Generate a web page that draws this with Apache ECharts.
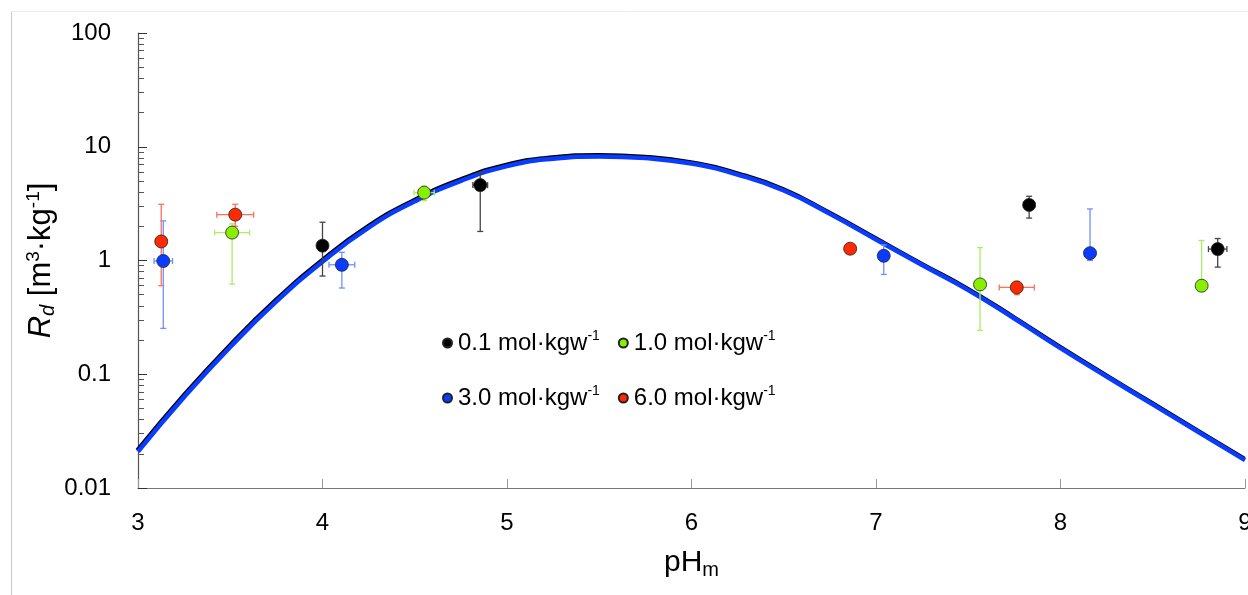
<!DOCTYPE html>
<html><head><meta charset="utf-8">
<script src="https://cdn.jsdelivr.net/npm/echarts@6/dist/echarts.min.js"></script>
<style>html,body{margin:0;padding:0;background:#fff}#c{width:1248px;height:595px}</style>
</head><body><div id="c"></div>
<script>
// ---- data ----
const xTicks = [3, 4, 5, 6, 7, 8, 9];
const yTicks = [0.01, 0.1, 1, 10, 100];
const yMinorTicks = [0.02,0.03,0.04,0.05,0.06,0.07,0.08,0.09,
                     0.2,0.3,0.4,0.5,0.6,0.7,0.8,0.9,
                     2,3,4,5,6,7,8,9,
                     20,30,40,50,60,70,80,90];
const seriesNames = ['0.1 mol·kgw-1', '1.0 mol·kgw-1', '3.0 mol·kgw-1', '6.0 mol·kgw-1'];
const legendText = ['0.1 mol·kgw', '1.0 mol·kgw', '3.0 mol·kgw', '6.0 mol·kgw'];

// 0.1 mol/kgw (black)
const c01_pH = [4.00, 4.855, 7.83, 8.852];
const c01_Rd = [1.35, 4.6, 3.08, 1.26];
const c01_lo = [0.73, 1.80, 2.36, 0.875];
const c01_hi = [2.17, 5.9, 3.67, 1.56];
const c01_xe = [0, 0.04, 0.03, 0.05];
// 1.0 mol/kgw (green)
const c10_pH = [3.51, 4.551, 7.564, 8.765];
const c10_Rd = [1.76, 3.95, 0.616, 0.60];
const c10_lo = [0.62, 3.36, 0.243, 0.55];
const c10_hi = [2.1, 4.5, 1.30, 1.50];
const c10_xe = [0.095, 0.055, 0, 0];
// 3.0 mol/kgw (blue)
const c30_pH = [3.137, 4.105, 7.042, 8.16];
const c30_Rd = [0.99, 0.917, 1.10, 1.16];
const c30_lo = [0.253, 0.573, 0.754, 1.0];
const c30_hi = [2.23, 1.18, 1.37, 2.84];
const c30_xe = [0.05, 0.07, 0, 0];
// 6.0 mol/kgw (red)
const c60_pH = [3.126, 3.527, 6.86, 7.763];
const c60_Rd = [1.47, 2.53, 1.27, 0.58];
const c60_lo = [0.60, 2.0, 1.27, 0.50];
const c60_hi = [3.12, 3.12, 1.27, 0.655];
const c60_xe = [0, 0.10, 0, 0.095];

// model curve (read every 0.25 pH)
const curvePH = [3.0, 3.25, 3.5, 3.75, 4.0, 4.25, 4.5, 4.75, 5.0, 5.25, 5.5, 5.75, 6.0, 6.25, 6.5, 6.75, 7.0, 7.25, 7.5, 7.75, 8.0, 8.25, 8.5, 8.75, 9.0];
const curveRd = [0.0209, 0.0631, 0.1738, 0.4365, 0.977, 1.950, 3.311, 5.012, 6.761, 7.852, 8.222, 7.943, 7.112, 5.690, 4.121, 2.570, 1.531, 0.912, 0.5495, 0.3090, 0.1698, 0.0955, 0.0543, 0.0309, 0.0176];

const FONT = 'Liberation Sans';
const colors = ['#000000', '#86f000', '#0a3cff', '#ff2a00'];
const errColors = ['#444444', '#a8f060', '#6f8fff', '#ff6f5a'];
const groups = [
  [c01_pH, c01_Rd, c01_lo, c01_hi, c01_xe],
  [c10_pH, c10_Rd, c10_lo, c10_hi, c10_xe],
  [c30_pH, c30_Rd, c30_lo, c30_hi, c30_xe],
  [c60_pH, c60_Rd, c60_lo, c60_hi, c60_xe]
];

function errRender(color) {
  return function (params, api) {
    const x = api.value(0), y = api.value(1), lo = api.value(2), hi = api.value(3), xe = api.value(4);
    const c = api.coord([x, y]);
    const st = { stroke: color, lineWidth: 1.3 };
    const cap = 3;
    const ch = [];
    if (hi > lo) {
      const pl = api.coord([x, lo]), ph = api.coord([x, hi]);
      ch.push({ type: 'line', shape: { x1: c[0], y1: pl[1], x2: c[0], y2: ph[1] }, style: st });
      if (lo < y) ch.push({ type: 'line', shape: { x1: c[0] - cap, y1: pl[1], x2: c[0] + cap, y2: pl[1] }, style: st });
      if (hi > y) ch.push({ type: 'line', shape: { x1: c[0] - cap, y1: ph[1], x2: c[0] + cap, y2: ph[1] }, style: st });
    }
    if (xe > 0) {
      const a = api.coord([x - xe, y]), b = api.coord([x + xe, y]);
      ch.push({ type: 'line', shape: { x1: a[0], y1: c[1], x2: b[0], y2: c[1] }, style: st });
      ch.push({ type: 'line', shape: { x1: a[0], y1: c[1] - cap, x2: a[0], y2: c[1] + cap }, style: st });
      ch.push({ type: 'line', shape: { x1: b[0], y1: c[1] - cap, x2: b[0], y2: c[1] + cap }, style: st });
    }
    return { type: 'group', children: ch };
  };
}

const series = [];
series.push({
  type: 'line', name: 'model', xAxisIndex: 0, yAxisIndex: 0,
  data: curvePH.map((p, i) => [p, curveRd[i]]),
  smooth: 0.5, symbol: 'none', z: 1,
  lineStyle: { color: '#0a3cff', width: 4.5, shadowColor: '#000', shadowBlur: 0, shadowOffsetX: -0.6, shadowOffsetY: -1.2 }
});
groups.forEach((g, k) => {
  const rows = g[0].map((p, i) => [p, g[1][i], g[2][i], g[3][i], g[4][i]]);
  series.push({
    type: 'custom', name: seriesNames[k] + ' err', z: 2, silent: true,
    renderItem: errRender(errColors[k]),
    encode: { x: 0, y: 1 },
    data: rows
  });
});
groups.forEach((g, k) => {
  series.push({
    type: 'scatter', name: seriesNames[k], z: 3,
    symbol: 'circle', symbolSize: 13,
    itemStyle: { color: colors[k], borderColor: '#222', borderWidth: 0.8, opacity: 1 },
    data: g[0].map((p, i) => [p, g[1][i]])
  });
});

function legendCfg(names, top) {
  return {
    data: names, left: 442, top: top, orient: 'horizontal', padding: 0,
    icon: 'circle', itemWidth: 9, itemHeight: 9, itemGap: 18,
    formatter: n => '{a|' + legendText[seriesNames.indexOf(n)] + '}{s|-1}',
    textStyle: {
      fontFamily: FONT, color: '#000', padding: [0, 0, 0, 1],
      rich: {
        a: { fontFamily: FONT, fontSize: 24, color: '#000', lineHeight: 28 },
        s: { fontFamily: FONT, fontSize: 14, color: '#000', verticalAlign: 'top', lineHeight: 13 }
      }
    },
    selectedMode: false
  };
}

const chart = echarts.init(document.getElementById('c'), null, { renderer: 'canvas' });
chart.setOption({
  animation: false,
  backgroundColor: '#fff',
  grid: { left: 138, right: 3, top: 33, bottom: 107, containLabel: false, outerBoundsMode: 'none' },
  legend: [legendCfg([seriesNames[0], seriesNames[1]], 329), legendCfg([seriesNames[2], seriesNames[3]], 384)],
  xAxis: {
    type: 'value', min: xTicks[0], max: xTicks[xTicks.length - 1], interval: 1,
    name: '{t|pH}{m|m}', nameLocation: 'middle', nameGap: 58, nameMoveOverlap: false,
    nameTextStyle: { rich: {
      t: { fontFamily: FONT, fontSize: 30, color: '#000', lineHeight: 34 },
      m: { fontFamily: FONT, fontSize: 20, color: '#000', verticalAlign: 'bottom', lineHeight: 26 }
    } },
    axisLine: { show: true, lineStyle: { color: '#777', width: 1.2 } },
    axisTick: { show: true, inside: true, length: 9, lineStyle: { color: '#999' } },
    axisLabel: { fontFamily: FONT, fontSize: 24, color: '#000', margin: 23 },
    splitLine: { show: false }
  },
  yAxis: [{
    type: 'log', logBase: 10, min: yTicks[0], max: yTicks[yTicks.length - 1],
    name: '{i|R}{d|d}{t| [m}{s|3}{t|·kg}{s|-1}{t|]}', nameLocation: 'middle', nameGap: 80, nameMoveOverlap: false,
    nameTextStyle: { rich: {
      i: { fontFamily: FONT, fontSize: 31, fontStyle: 'italic', color: '#000', lineHeight: 34 },
      d: { fontFamily: FONT, fontSize: 20, fontStyle: 'italic', color: '#000', verticalAlign: 'bottom', lineHeight: 26 },
      t: { fontFamily: FONT, fontSize: 31, color: '#000', lineHeight: 34 },
      s: { fontFamily: FONT, fontSize: 19, color: '#000', verticalAlign: 'top', lineHeight: 17 }
    } },
    axisLine: { show: true, lineStyle: { color: '#555', width: 1.2 } },
    axisTick: { show: true, inside: true, length: 9, lineStyle: { color: '#333' } },
    axisLabel: { fontFamily: FONT, fontSize: 24, color: '#000', margin: 27 },
    splitLine: { show: false }, minorTick: { show: false }
  }, {
    type: 'log', logBase: 10, min: yTicks[0], max: yTicks[yTicks.length - 1], position: 'left',
    axisLine: { show: false }, axisLabel: { show: false }, splitLine: { show: false },
    axisTick: { show: true, inside: true, length: 6, customValues: yMinorTicks, lineStyle: { color: '#555' } }
  }],
  graphic: [
    { type: 'line', shape: { x1: 11.5, y1: 11, x2: 11.5, y2: 595 }, style: { stroke: '#c8c8c8', lineWidth: 1 }, silent: true },
    { type: 'line', shape: { x1: 11, y1: 11.5, x2: 1248, y2: 11.5 }, style: { stroke: '#ececec', lineWidth: 1 }, silent: true }
  ],
  series: series
});
</script></body></html>
